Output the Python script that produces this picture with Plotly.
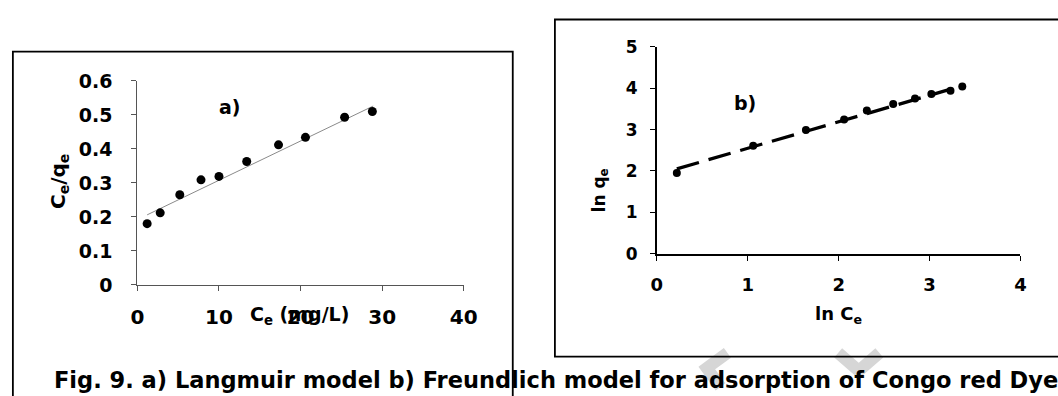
import plotly.graph_objects as go

W, H = 1058, 396

# ---------- data ----------
# a) Langmuir
ce = [1.2, 2.8, 5.2, 7.8, 10.0, 13.4, 17.3, 20.6, 25.4, 28.8]
ce_qe = [0.180, 0.212, 0.265, 0.309, 0.319, 0.363, 0.412, 0.434, 0.493, 0.510]
lang_fit_x = [1.2, 28.9]
lang_fit_y = [0.206, 0.526]
# b) Freundlich
ln_ce = [0.22, 1.06, 1.64, 2.06, 2.31, 2.60, 2.84, 3.02, 3.23, 3.36]
ln_qe = [1.95, 2.61, 2.99, 3.245, 3.465, 3.62, 3.75, 3.86, 3.94, 4.04]
freu_fit_x = [0.22, 3.36]
freu_fit_y = [2.05, 4.06]

a_xticks = [0, 10, 20, 30, 40]
a_yticks = [0, 0.1, 0.2, 0.3, 0.4, 0.5, 0.6]
a_ytext = ["0", "0.1", "0.2", "0.3", "0.4", "0.5", "0.6"]
b_xticks = [0, 1, 2, 3, 4]
b_yticks = [0, 1, 2, 3, 4, 5]

caption = "Fig. 9. a) Langmuir model b) Freundlich model for adsorption of Congo red Dye"

FONT = "DejaVu Sans, Arial, sans-serif"


def px(x):
    return x / W


def py(y):
    return 1 - y / H


fig = go.Figure()

# a) scatter + trendline
fig.add_trace(go.Scatter(x=lang_fit_x, y=lang_fit_y, mode="lines",
                         line=dict(color="#8a8a8a", width=1),
                         xaxis="x", yaxis="y", showlegend=False, hoverinfo="skip"))
fig.add_trace(go.Scatter(x=ce, y=ce_qe, mode="markers",
                         marker=dict(color="black", size=9),
                         xaxis="x", yaxis="y", showlegend=False))
# b) scatter + dashed trendline
fig.add_trace(go.Scatter(x=freu_fit_x, y=freu_fit_y, mode="lines",
                         line=dict(color="black", width=3.3, dash="23px,10px"),
                         xaxis="x2", yaxis="y2", showlegend=False, hoverinfo="skip"))
fig.add_trace(go.Scatter(x=ln_ce, y=ln_qe, mode="markers",
                         marker=dict(color="black", size=8),
                         xaxis="x2", yaxis="y2", showlegend=False))

axis_common = dict(showgrid=False, zeroline=False, showline=True, ticks="outside",
                   ticklen=5, tickwidth=1.3, fixedrange=True)

fig.update_layout(
    width=W, height=H,
    margin=dict(l=0, r=0, t=0, b=0),
    paper_bgcolor="white", plot_bgcolor="rgba(0,0,0,0)",
    showlegend=False,
    xaxis=dict(domain=[px(133), px(466)], range=[0, 40], tickvals=a_xticks,
               linecolor="#555555", linewidth=1.3, tickcolor="#555555",
               tickfont=dict(family=FONT, size=20, color="black", weight="bold"),
               ticklabelstandoff=9, anchor="y", **axis_common),
    yaxis=dict(domain=[py(290), py(74)], range=[0, 0.6], tickvals=a_yticks,
               ticktext=a_ytext,
               linecolor="#555555", linewidth=1.3, tickcolor="#555555",
               tickfont=dict(family=FONT, size=19, color="black", weight="bold"),
               ticklabelstandoff=15, anchor="x", **axis_common),
    xaxis2=dict(domain=[px(663), px(1034)], range=[0, 4], tickvals=b_xticks,
                linecolor="black", linewidth=1.8, tickcolor="black",
                tickfont=dict(family=FONT, size=18, color="black", weight="bold"),
                ticklabelstandoff=9, anchor="y2", **axis_common),
    yaxis2=dict(domain=[py(257), py(38)], range=[0, 5], tickvals=b_yticks,
                linecolor="black", linewidth=1.8, tickcolor="black",
                tickfont=dict(family=FONT, size=17, color="black", weight="bold"),
                ticklabelstandoff=9, anchor="x2", **axis_common),
)

shapes = [
    # left frame
    dict(type="rect", xref="paper", yref="paper", x0=px(6), x1=px(516), y0=py(420), y1=py(43),
         line=dict(color="black", width=1.8), fillcolor="rgba(0,0,0,0)"),
    # right frame
    dict(type="rect", xref="paper", yref="paper", x0=px(559), x1=px(1080), y0=py(366), y1=py(9),
         line=dict(color="black", width=1.8), fillcolor="rgba(0,0,0,0)"),
    # faint watermark strokes
    dict(type="path", xref="paper", yref="paper", layer="below",
         path=f"M {px(735)},{py(362)} L {px(714)},{py(378)} L {px(728)},{py(398)}",
         line=dict(color="#d6d6d6", width=12)),
    dict(type="path", xref="paper", yref="paper", layer="below",
         path=f"M {px(848)},{py(362)} L {px(869)},{py(381)} L {px(890)},{py(362)}",
         line=dict(color="#d6d6d6", width=12)),
]
fig.update_layout(shapes=shapes)

ann = [
    dict(text="C<sub>e</sub>/q<sub>e</sub>", x=px(53), y=py(180), textangle=-90,
         font=dict(family=FONT, size=20, color="black", weight="bold")),
    dict(text="C<sub>e</sub> (mg/L)", x=px(298), y=py(322),
         font=dict(family=FONT, size=19, color="black", weight="bold")),
    dict(text="a)", x=px(228), y=py(102),
         font=dict(family=FONT, size=19, color="black", weight="bold")),
    dict(text="ln q<sub>e</sub>", x=px(605), y=py(190), textangle=-90,
         font=dict(family=FONT, size=17, color="black", weight="bold")),
    dict(text="ln C<sub>e</sub>", x=px(848), y=py(322),
         font=dict(family=FONT, size=18, color="black", weight="bold")),
    dict(text="b)", x=px(753), y=py(97),
         font=dict(family=FONT, size=19, color="black", weight="bold")),
    dict(text=caption, x=px(46), y=py(375), xanchor="left", yanchor="top",
         font=dict(family=FONT, size=22.5, color="black", weight="bold")),
]
for a in ann:
    a.setdefault("xanchor", "center")
    a.setdefault("yanchor", "middle")
    a.update(xref="paper", yref="paper", showarrow=False)
fig.update_layout(annotations=ann)

fig.write_html("out.html")
